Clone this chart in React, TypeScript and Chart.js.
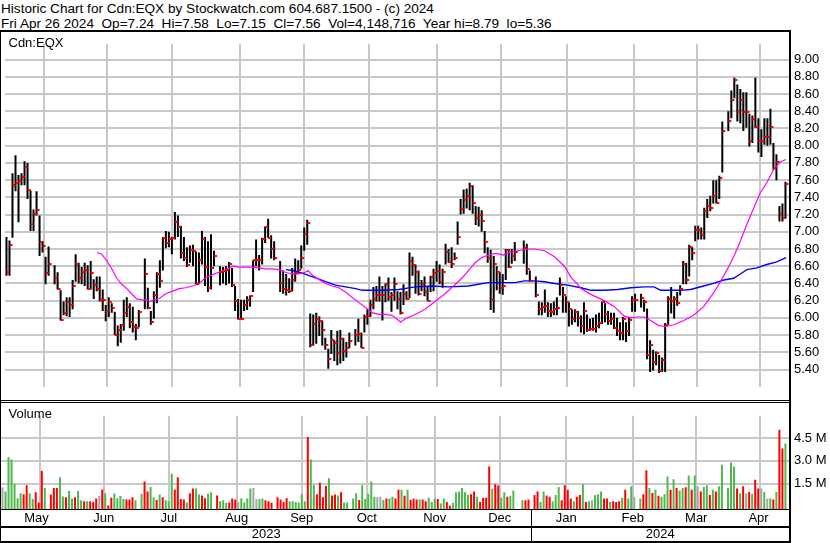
import React, { useEffect, useRef } from 'react';
import { Chart, registerables } from 'chart.js';

Chart.register(...registerables);

const FONT = '"Liberation Sans", Arial, Helvetica, sans-serif';
const GRID = '#c8c8c8';

// One slot per weekday, 1 May 2023 .. 26 Apr 2024; null = market holiday
const highs: (number | null)[] = [
  6.94, 6.90, 7.68, 7.89, 7.66, 7.68, 7.82, 7.80, 7.48, 7.26,
  7.47, 7.19, 6.89, 6.71, 6.83, null, 6.61, 6.53, 6.32, 6.19,
  6.24, 6.24, 6.44, 6.74, 6.64, 6.59, 6.64, 6.61, 6.66, 6.45,
  6.48, 6.48, 6.33, 6.15, 6.24, 6.17, 6.07, 5.91, 5.93, 6.21,
  6.24, 6.17, 6.13, 5.93, 6.09, null, 6.69, 6.35, 6.08, 6.31,
  6.53, 6.67, 6.94, 7.01, 7.00, 6.94, 7.23, 7.19, 7.07, 6.94,
  6.82, 6.84, 6.85, 6.77, 6.76, 7.01, 6.94, 6.89, 6.97, 6.78,
  null, 6.60, 6.59, 6.60, 6.65, 6.58, 6.37, 6.22, 6.21, 6.21,
  6.25, 6.26, 6.67, 6.91, 6.73, 6.93, 7.06, 7.15, 6.96, 6.89,
  null, 6.66, 6.55, 6.51, 6.46, 6.58, 6.69, 6.67, 6.84, 7.05,
  7.14, 6.05, 6.04, 6.06, 6.02, 5.97, 5.77, 5.64, 5.86, 5.74,
  5.85, 5.86, 5.77, 5.72, 5.83, null, 5.87, 5.99, 5.83, 6.04,
  6.10, 6.21, 6.36, 6.37, 6.48, 6.37, 6.40, 6.47, 6.30, 6.47,
  6.31, 6.30, 6.39, 6.31, 6.76, 6.71, 6.62, 6.55, 6.44, 6.48,
  6.36, 6.49, 6.57, 6.66, 6.62, 6.57, 6.86, 6.80, 6.82, 6.76,
  7.12, 7.38, 7.49, 7.50, 7.57, 7.54, 7.30, 7.29, 7.25, 7.01,
  6.82, 6.79, 6.72, 6.60, 6.53, 6.51, 6.80, 6.80, 6.80, 6.88,
  null, null, 6.90, 6.86, 6.55, null, 6.48, 6.19, 6.18, 6.33,
  6.18, 6.17, 6.19, 6.24, 6.47, 6.36, 6.25, 6.18, 6.10, 6.10,
  6.08, 6.03, 6.18, 6.04, 5.99, 6.00, 6.04, 6.06, 6.19, 6.17,
  6.08, 6.06, 6.06, 6.00, 5.95, 6.01, 5.95, 6.01, 6.25, 6.28,
  null, 6.28, 6.21, 6.11, 5.74, 5.63, 5.61, 5.57, 5.54, 5.94,
  6.25, 6.36, 6.25, 6.30, 6.38, 6.66, 6.64, 6.85, 6.82, 7.07,
  7.07, 7.05, 7.28, 7.38, 7.42, 7.60, 7.60, 7.65, 8.28, null,
  8.40, 8.64, 8.79, 8.71, 8.66, 8.62, 8.62, 8.37, 8.35, 8.79,
  8.32, 8.19, 8.32, 8.32, 8.43, 8.03, 7.90, 7.30, 7.33, 7.58,
];

const lows: (number | null)[] = [
  6.49, 6.49, 6.93, 7.47, 7.11, 7.54, 7.54, 7.38, 7.01, 7.01,
  7.19, 6.72, 6.76, 6.39, 6.49, null, 6.39, 6.33, 5.97, 6.03,
  6.02, 6.01, 6.10, 6.42, 6.40, 6.39, 6.37, 6.33, 6.33, 6.22,
  6.31, 6.19, 6.08, 5.96, 6.01, 6.06, 5.80, 5.67, 5.71, 5.85,
  6.01, 5.88, 5.83, 5.74, 5.89, null, 6.10, 6.10, 5.92, 5.99,
  6.17, 6.35, 6.55, 6.81, 6.82, 6.74, 6.91, 6.94, 6.69, 6.66,
  6.59, 6.64, 6.60, 6.39, 6.39, 6.62, 6.37, 6.30, 6.33, 6.60,
  null, 6.38, 6.40, 6.38, 6.40, 6.36, 6.08, 5.98, 5.98, 6.08,
  6.09, 6.13, 6.30, 6.60, 6.55, 6.62, 6.87, 6.93, 6.69, 6.67,
  null, 6.30, 6.28, 6.26, 6.29, 6.31, 6.42, 6.51, 6.57, 6.78,
  6.85, 5.66, 5.68, 5.70, 5.79, 5.68, 5.63, 5.41, 5.58, 5.50,
  5.45, 5.47, 5.50, 5.54, 5.65, null, 5.68, 5.72, 5.65, 5.83,
  5.92, 6.01, 6.10, 6.19, 6.19, 5.97, 6.18, 6.20, 6.07, 6.20,
  6.10, 6.04, 6.15, 6.21, 6.23, 6.49, 6.28, 6.26, 6.31, 6.25,
  6.20, 6.30, 6.31, 6.42, 6.39, 6.35, 6.62, 6.64, 6.58, 6.67,
  6.85, 7.20, 7.21, 7.27, 7.25, 7.21, 7.08, 7.06, 7.00, 6.75,
  6.64, 6.09, 6.06, 6.32, 6.28, 6.27, 6.44, 6.58, 6.63, 6.66,
  null, null, 6.63, 6.50, 6.42, null, 6.24, 6.03, 6.03, 6.06,
  6.01, 6.01, 6.03, 6.03, 6.26, 6.06, 6.06, 5.90, 5.92, 5.95,
  5.90, 5.83, 5.81, 5.84, 5.85, 5.85, 5.83, 5.88, 5.93, 5.95,
  5.92, 5.92, 5.87, 5.79, 5.74, 5.74, 5.72, 5.79, 6.07, 6.07,
  null, 6.12, 6.07, 5.52, 5.37, 5.39, 5.45, 5.36, 5.37, 5.37,
  5.92, 6.05, 5.99, 6.14, 6.26, 6.39, 6.39, 6.48, 6.67, 6.89,
  6.91, 6.91, 6.91, 7.16, 7.24, 7.33, 7.33, 7.38, 7.69, null,
  8.17, 8.32, 8.55, 8.28, 8.26, 8.17, 8.21, 7.99, 8.03, 8.21,
  7.92, 7.87, 8.01, 8.00, 8.01, 7.72, 7.60, 7.12, 7.12, 7.15,
];

const closes: (number | null)[] = [
  6.53, 6.85, 7.54, 7.57, 7.59, 7.64, 7.75, 7.49, 7.09, 7.21,
  7.25, 6.88, 6.83, 6.52, 6.62, null, 6.46, 6.34, 5.98, 6.06,
  6.19, 6.15, 6.37, 6.62, 6.46, 6.53, 6.56, 6.33, 6.52, 6.38,
  6.34, 6.21, 6.21, 6.08, 6.18, 6.12, 5.80, 5.86, 5.92, 6.06,
  6.13, 5.95, 5.89, 5.88, 6.07, null, 6.51, 6.12, 5.95, 6.26,
  6.51, 6.43, 6.93, 6.87, 6.92, 6.93, 7.11, 7.05, 6.75, 6.69,
  6.61, 6.79, 6.78, 6.39, 6.67, 6.92, 6.59, 6.35, 6.58, 6.72,
  null, 6.53, 6.54, 6.56, 6.62, 6.38, 6.20, 5.99, 5.99, 6.15,
  6.21, 6.25, 6.67, 6.67, 6.67, 6.92, 7.05, 6.93, 6.80, 6.69,
  null, 6.41, 6.34, 6.32, 6.31, 6.44, 6.52, 6.56, 6.70, 6.98,
  7.10, 5.68, 5.93, 5.99, 5.96, 5.86, 5.68, 5.52, 5.74, 5.71,
  5.59, 5.76, 5.62, 5.65, 5.73, null, 5.80, 5.81, 5.65, 6.01,
  6.02, 6.15, 6.22, 6.26, 6.26, 6.26, 6.39, 6.24, 6.26, 6.39,
  6.22, 6.06, 6.28, 6.22, 6.66, 6.61, 6.53, 6.28, 6.39, 6.30,
  6.20, 6.47, 6.52, 6.55, 6.42, 6.53, 6.76, 6.65, 6.63, 6.69,
  6.94, 7.26, 7.37, 7.42, 7.53, 7.33, 7.16, 7.19, 7.12, 6.88,
  6.69, 6.21, 6.62, 6.53, 6.35, 6.37, 6.79, 6.59, 6.72, 6.77,
  null, null, 6.81, 6.57, 6.43, null, 6.27, 6.10, 6.13, 6.14,
  6.08, 6.07, 6.10, 6.12, 6.38, 6.26, 6.19, 6.10, 5.99, 6.07,
  6.00, 5.90, 6.08, 5.86, 5.87, 5.87, 5.90, 5.94, 6.19, 6.05,
  5.96, 5.99, 5.88, 5.85, 5.82, 5.99, 5.85, 5.97, 6.21, 6.21,
  null, 6.23, 6.19, 5.57, 5.69, 5.49, 5.59, 5.38, 5.51, 5.92,
  6.22, 6.20, 6.22, 6.17, 6.33, 6.63, 6.44, 6.82, 6.75, 7.02,
  7.02, 6.96, 7.24, 7.30, 7.28, 7.42, 7.33, 7.63, 8.17, null,
  8.29, 8.53, 8.76, 8.39, 8.53, 8.39, 8.39, 8.06, 8.31, 8.22,
  8.06, 8.06, 8.10, 8.10, 8.22, 7.74, 7.81, 7.21, 7.16, 7.56,
];

// Volume in millions of shares
const volumesM: (number | null)[] = [
  1.27, 1.00, 3.25, 3.09, 1.48, 0.55, 0.88, 0.82, 1.40, 0.88,
  0.50, 0.94, 0.27, 2.34, 1.23, null, 0.79, 1.23, 1.23, 1.92,
  0.67, 0.61, 1.02, 0.54, 0.61, 1.02, 0.42, 0.36, 0.36, 0.36,
  0.30, 0.54, 0.69, 1.13, 0.88, 0.08, 0.59, 0.88, 0.55, 0.69,
  0.50, 0.46, 0.46, 0.61, 0.42, null, 0.84, 1.65, 1.00, 1.29,
  0.61, 0.44, 0.80, 0.61, 0.42, 0.36, 2.15, 1.13, 1.92, 0.50,
  0.46, 0.27, 0.88, 1.19, 1.19, 0.79, 0.73, 0.55, 0.84, 0.94,
  null, 0.73, 0.36, 0.42, 0.23, 0.27, 0.54, 0.46, 0.30, 0.55,
  0.27, 0.55, 1.19, 1.23, 0.50, 0.50, 0.54, 0.42, 0.36, 0.25,
  null, 0.61, 0.46, 0.30, 0.55, 0.36, 0.36, 0.30, 0.27, 0.82,
  0.36, 4.57, 3.09, 1.42, 0.82, 1.57, 0.61, 1.36, 1.86, 0.73,
  0.80, 0.73, 0.94, 0.27, 0.27, null, 0.54, 0.88, 0.44, 1.40,
  0.50, 0.84, 1.65, 0.65, 0.61, 0.65, 0.44, 0.54, 0.54, 0.65,
  0.54, 1.11, 1.11, 0.71, 1.11, 0.45, 0.52, 0.46, 0.46, 0.46,
  0.36, 0.59, 0.30, 0.54, 0.50, 0.21, 0.54, 0.30, 0.05, 0.25,
  0.94, 1.00, 1.23, 0.94, 0.77, 0.82, 1.00, 0.65, 0.30, 0.59,
  0.59, 2.63, 1.17, 1.46, 1.38, 0.59, 0.94, 0.65, 0.71, 1.05,
  null, null, 0.42, 0.42, 0.46, null, 0.77, 1.00, 0.30, 1.00,
  0.73, 0.65, 0.36, 0.77, 1.29, 0.42, 1.40, 1.11, 0.54, 0.36,
  0.65, 0.77, 1.46, 0.30, 0.36, 0.42, 0.77, 0.82, 1.00, 0.54,
  0.54, 0.30, 0.36, 0.30, 0.36, 0.59, 1.11, 0.54, 1.34, 0.65,
  null, 0.54, 0.82, 2.38, 1.23, 0.90, 1.11, 0.71, 0.65, 0.82,
  1.98, 1.11, 1.80, 1.23, 1.05, 1.23, 1.27, 2.04, 1.11, 2.04,
  1.34, 1.00, 1.29, 1.40, 0.77, 1.11, 1.00, 1.34, 2.75, null,
  1.23, 2.90, 2.63, 1.19, 0.88, 1.34, 0.88, 0.96, 0.84, 1.77,
  1.19, 1.19, 0.96, 0.54, 0.54, 0.46, 0.96, 5.04, 3.82, 4.15,
];

// Moving averages: [slot, price]
const maShort: [number, number][] = [
  [30.1, 6.76], [31.7, 6.74], [33.4, 6.66], [35, 6.57], [36.7, 6.46], [38.3, 6.39], [40, 6.34],
  [41.6, 6.28], [43.3, 6.22], [44.9, 6.21], [46.6, 6.21], [47.7, 6.19], [49.3, 6.21], [51, 6.23],
  [53, 6.28], [55.2, 6.31], [57.4, 6.34], [59.6, 6.35], [61.8, 6.37], [64, 6.40], [66.3, 6.47],
  [68.4, 6.50], [70.6, 6.53], [73, 6.56], [75.2, 6.60], [77.3, 6.59], [79.6, 6.59], [81.7, 6.59],
  [84, 6.58], [86.1, 6.57], [88.4, 6.57], [90.5, 6.56], [92.8, 6.53], [94.9, 6.51], [97.2, 6.51],
  [99.3, 6.53], [100.3, 6.55], [101.6, 6.50], [103.7, 6.45], [106.1, 6.40], [108.3, 6.37],
  [110.5, 6.35], [112.7, 6.30], [114.9, 6.24], [117.1, 6.18], [119.4, 6.12], [121.6, 6.06],
  [123.8, 6.04], [126, 6.04], [128.2, 6.03], [130.4, 5.97], [131, 5.95], [132.6, 5.99],
  [135.9, 6.04], [139.2, 6.10], [142.5, 6.19], [145.8, 6.28], [148, 6.35], [151.4, 6.46],
  [153.6, 6.55], [155.8, 6.64], [158, 6.70], [160.2, 6.73], [162.9, 6.75], [165.1, 6.73],
  [167.3, 6.76], [170.1, 6.78], [173.4, 6.80], [175.6, 6.80], [178.9, 6.78], [182.2, 6.71],
  [185.5, 6.60], [187.7, 6.47], [189.9, 6.39], [191, 6.34], [194.4, 6.27], [198.8, 6.20],
  [202.1, 6.13], [205.4, 6.02], [207.6, 6.00], [209.8, 6.01], [212, 6.01], [214.2, 5.97],
  [216.9, 5.91], [219.2, 5.90], [221.9, 5.92], [225.2, 5.97], [228.5, 6.03], [231.8, 6.13],
  [235.1, 6.29], [237.4, 6.42], [239.6, 6.56], [241.8, 6.71], [244, 6.89], [246.2, 7.09],
  [248.4, 7.27], [250.6, 7.45], [252.8, 7.57], [255, 7.72], [257.2, 7.81], [259.2, 7.84],
];

const maLong: [number, number][] = [
  [92.9, 6.56], [95.1, 6.55], [98.4, 6.52], [100.6, 6.49], [103.9, 6.45], [106.1, 6.42],
  [109.4, 6.38], [112.7, 6.36], [116.1, 6.34], [118.3, 6.32], [121.6, 6.32], [124.9, 6.32],
  [130.4, 6.33], [135.9, 6.36], [141.4, 6.37], [146.9, 6.36], [153.6, 6.37], [156.9, 6.39],
  [160.2, 6.41], [169, 6.41], [172.3, 6.43], [175.6, 6.43], [178.9, 6.42], [182.2, 6.40],
  [186.6, 6.38], [191, 6.35], [194.4, 6.32], [198.8, 6.32], [203.2, 6.33], [207.6, 6.35],
  [212, 6.36], [215.3, 6.36], [217.5, 6.32], [224.1, 6.32], [227.4, 6.33], [231.8, 6.37],
  [235.1, 6.40], [238.5, 6.44], [241.8, 6.46], [244, 6.51], [246.2, 6.56], [249.5, 6.58],
  [252.8, 6.62], [256.1, 6.65], [259.2, 6.70],
];

// Slot of each month boundary (Jun .. Apr) and labels
const monthStarts = [23, 44, 66, 89, 109, 132, 154, 175, 198, 219, 240];
const monthLabels = ['May', 'Jun', 'Jul', 'Aug', 'Sep', 'Oct', 'Nov', 'Dec', 'Jan', 'Feb', 'Mar', 'Apr'];
const yearStart2024 = 175;
const yearLabels = ['2023', '2024'];
const priceTicks = [5.4, 5.6, 5.8, 6.0, 6.2, 6.4, 6.6, 6.8, 7.0, 7.2, 7.4, 7.6, 7.8, 8.0, 8.2, 8.4, 8.6, 8.8, 9.0];
const volumeTicks = [1.5, 3.0, 4.5];

const X_MIN = -0.49;
const X_MAX = 260.18;
const P_MIN = 5.1946;
const P_MAX = 9.1838;
const V_MIN = -0.156;
const V_MAX = 5.96;

const GREEN = '#4fb84f';
const RED = '#ff0000';
const GRAY = '#a6a6a6';

export default function App() {
  const priceRef = useRef<HTMLCanvasElement | null>(null);
  const volRef = useRef<HTMLCanvasElement | null>(null);

  useEffect(() => {
    const tick = document.createElement('canvas');
    tick.width = 8;
    tick.height = 2;
    const tctx = tick.getContext('2d');
    if (tctx) {
      tctx.fillStyle = RED;
      tctx.fillRect(4, 0, 3, 2);
    }

    const hl: any[] = [];
    const cl: any[] = [];
    const vol: any[] = [];
    const volColors: string[] = [];
    let prev: number | null = null;
    for (let i = 0; i < highs.length; i++) {
      const h = highs[i];
      const l = lows[i];
      const c = closes[i];
      if (h == null || l == null || c == null) continue;
      hl.push({ x: i, y: [l, h] });
      cl.push({ x: i, y: c });
      vol.push({ x: i, y: volumesM[i] });
      if (prev == null || Math.abs(c - prev) < 0.001) volColors.push(GRAY);
      else volColors.push(c > prev ? GREEN : RED);
      prev = c;
    }

    const bounds = [X_MIN, ...monthStarts, X_MAX];
    const monthCenters = monthLabels.map((_, i) => (bounds[i] + bounds[i + 1]) / 2);
    const yearCenters = [(X_MIN + yearStart2024) / 2, (yearStart2024 + X_MAX) / 2];

    const labelFont = { family: FONT, size: 13 };

    const gridX = {
      type: 'linear' as const,
      min: X_MIN,
      max: X_MAX,
      offset: false,
      afterBuildTicks: (s: any) => {
        s.ticks = monthStarts.map((v) => ({ value: v }));
      },
      afterFit: (s: any) => {
        s.height = 0;
      },
      grid: { color: GRID, lineWidth: 2, drawTicks: false },
      border: { display: false },
      ticks: { display: false },
    };

    const price = new Chart(priceRef.current as HTMLCanvasElement, {
      type: 'bar',
      data: {
        datasets: [
          {
            type: 'scatter',
            data: cl,
            pointStyle: tick as any,
            pointRadius: 2,
            order: 0,
          } as any,
          {
            type: 'line',
            data: maShort.map(([x, y]) => ({ x, y })),
            borderColor: '#ff00ff',
            borderWidth: 1.2,
            pointRadius: 0,
            tension: 0,
            order: 1,
          } as any,
          {
            type: 'line',
            data: maLong.map(([x, y]) => ({ x, y })),
            borderColor: '#0000ff',
            borderWidth: 1.4,
            pointRadius: 0,
            tension: 0,
            order: 1,
          } as any,
          {
            type: 'bar',
            data: hl,
            backgroundColor: '#000000',
            barThickness: 2,
            inflateAmount: 0,
            order: 3,
          } as any,
        ],
      },
      options: {
        animation: false,
        responsive: false,
        events: [],
        plugins: { legend: { display: false }, tooltip: { enabled: false } },
        layout: { padding: { left: 1, right: 0, top: 0, bottom: 0 } },
        scales: {
          x: gridX as any,
          y: {
            type: 'linear',
            position: 'right',
            min: P_MIN,
            max: P_MAX,
            afterBuildTicks: (s: any) => {
              s.ticks = priceTicks.map((v) => ({ value: v }));
            },
            afterFit: (s: any) => {
              s.width = 41;
            },
            grid: { color: GRID, lineWidth: 2, drawTicks: false },
            border: { display: false },
            ticks: {
              padding: 5,
              color: '#000',
              font: labelFont,
              callback: (v: any) => Number(v).toFixed(2),
            },
          } as any,
        },
      },
    });

    const volume = new Chart(volRef.current as HTMLCanvasElement, {
      type: 'bar',
      data: {
        datasets: [
          {
            data: vol,
            backgroundColor: volColors,
            barThickness: 2,
            inflateAmount: 0,
            base: V_MIN,
            xAxisID: 'x',
            yAxisID: 'y',
          } as any,
        ],
      },
      options: {
        animation: false,
        responsive: false,
        events: [],
        plugins: { legend: { display: false }, tooltip: { enabled: false } },
        layout: { padding: { left: 1, right: 0, top: 0, bottom: 0 } },
        scales: {
          x: { ...gridX, weight: 0 } as any,
          xm: {
            type: 'linear',
            position: 'bottom',
            weight: 1,
            min: X_MIN,
            max: X_MAX,
            offset: false,
            afterBuildTicks: (s: any) => {
              s.ticks = monthCenters.map((v) => ({ value: v }));
            },
            afterFit: (s: any) => {
              s.height = 18;
            },
            grid: { display: false, drawTicks: false },
            border: { display: false },
            ticks: {
              autoSkip: false,
              maxRotation: 0,
              padding: 2,
              color: '#000',
              font: labelFont,
              callback: (_v: any, i: number) => monthLabels[i],
            },
          } as any,
          xy: {
            type: 'linear',
            position: 'bottom',
            weight: 2,
            min: X_MIN,
            max: X_MAX,
            offset: false,
            afterBuildTicks: (s: any) => {
              s.ticks = yearCenters.map((v) => ({ value: v }));
            },
            afterFit: (s: any) => {
              s.height = 16;
            },
            grid: { display: false, drawTicks: false },
            border: { display: false },
            ticks: {
              autoSkip: false,
              maxRotation: 0,
              padding: 0,
              color: '#000',
              font: labelFont,
              callback: (_v: any, i: number) => yearLabels[i],
            },
          } as any,
          y: {
            type: 'linear',
            position: 'right',
            min: V_MIN,
            max: V_MAX,
            afterBuildTicks: (s: any) => {
              s.ticks = volumeTicks.map((v) => ({ value: v }));
            },
            afterFit: (s: any) => {
              s.width = 41;
            },
            grid: { color: GRID, lineWidth: 2, drawTicks: false },
            border: { display: false },
            ticks: {
              padding: 5,
              color: '#000',
              font: labelFont,
              callback: (v: any) => Number(v).toFixed(1) + ' M',
            },
          } as any,
        },
      },
    });

    return () => {
      price.destroy();
      volume.destroy();
    };
  }, []);

  const line = (left: number, top: number, width: number, height: number) => (
    <div
      style={{
        position: 'absolute',
        left,
        top,
        width,
        height,
        background: '#000',
      }}
    />
  );

  return (
    <div
      style={{
        position: 'absolute',
        left: 0,
        top: 0,
        width: 830,
        height: 543,
        background: '#fff',
        overflow: 'hidden',
        fontFamily: FONT,
        color: '#000',
      }}
    >
      <div
        style={{
          position: 'absolute',
          left: 1,
          top: 0.5,
          fontSize: 13.6,
          lineHeight: '15.5px',
          whiteSpace: 'pre',
        }}
      >
        {'Historic Chart for Cdn:EQX by Stockwatch.com 604.687.1500 - (c) 2024\n'}
        {'Fri Apr 26 2024  Op=7.24  Hi=7.58  Lo=7.15  Cl=7.56  Vol=4,148,716  Year hi=8.79  lo=5.36'}
      </div>
      <canvas
        ref={priceRef}
        width={830}
        height={369}
        style={{ position: 'absolute', left: 0, top: 31, width: 830, height: 369 }}
      />
      <canvas
        ref={volRef}
        width={830}
        height={140}
        style={{ position: 'absolute', left: 0, top: 403, width: 830, height: 140 }}
      />
      {line(0, 30, 790, 2)}
      {line(0, 30, 1, 513)}
      {line(789, 30, 2, 513)}
      {line(0, 400, 790, 1)}
      {line(0, 402, 790, 1)}
      {line(0, 509, 790, 1)}
      {line(0, 526, 790, 2)}
      {line(0, 541, 790, 2)}
      {line(531, 509, 1, 33)}
      <div style={{ position: 'absolute', left: 8.5, top: 34.5, fontSize: 13, lineHeight: '15px' }}>Cdn:EQX</div>
      <div style={{ position: 'absolute', left: 8.5, top: 406, fontSize: 13, lineHeight: '15px' }}>Volume</div>
    </div>
  );
}
